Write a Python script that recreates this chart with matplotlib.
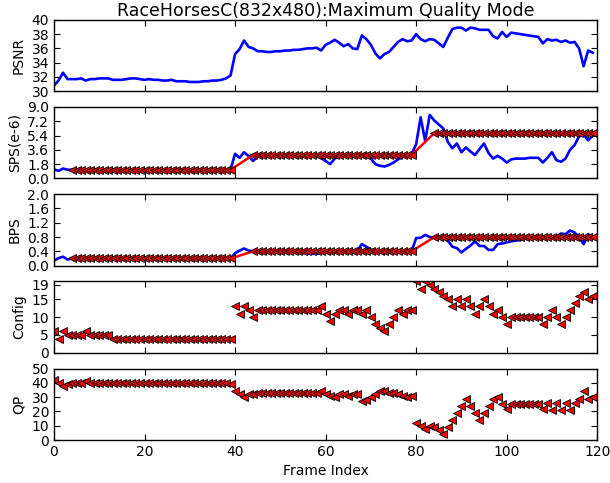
import matplotlib
matplotlib.use("Agg")
import matplotlib.pyplot as plt
import numpy as np

# frame indices
frames = list(range(120))

psnr = [30.8, 31.5, 32.6, 31.7, 31.7, 31.7, 31.8, 31.5, 31.7, 31.7,
        31.8, 31.8, 31.8, 31.6, 31.6, 31.6, 31.7, 31.8, 31.8, 31.7,
        31.6, 31.7, 31.6, 31.6, 31.5, 31.5, 31.6, 31.4, 31.4, 31.4,
        31.3, 31.3, 31.3, 31.4, 31.4, 31.5, 31.5, 31.6, 31.8, 32.2,
        35.2, 35.9, 37.1, 36.2, 36.0, 35.6, 35.6, 35.5, 35.5, 35.6,
        35.6, 35.7, 35.7, 35.8, 35.8, 35.9, 36.0, 36.0, 36.1, 35.7,
        36.5, 36.8, 37.2, 36.8, 36.3, 36.6, 36.0, 35.9, 37.8, 37.3,
        36.5, 35.3, 34.6, 35.2, 35.5, 36.2, 36.9, 37.3, 37.0, 37.1,
        38.0, 37.3, 37.0, 37.3, 37.2, 36.7, 36.2, 37.5, 38.7, 38.9,
        38.9, 38.5, 38.9, 38.8, 38.6, 38.6, 38.6, 37.7, 37.4, 38.3,
        37.6, 38.2, 38.1, 38.0, 37.9, 37.8, 37.7, 37.6, 36.7, 37.3,
        37.1, 37.2, 36.9, 37.1, 36.8, 36.9, 36.0, 33.5, 35.7, 35.4]

sps = [1.15, 0.95, 1.25, 1.1, 1.1, 1.1, 1.1, 1.1, 1.1, 1.1,
       1.1, 1.1, 1.1, 1.1, 1.1, 1.1, 1.1, 1.1, 1.1, 1.1,
       1.1, 1.1, 1.1, 1.1, 1.1, 1.1, 1.1, 1.1, 1.1, 1.1,
       1.1, 1.1, 1.1, 1.1, 1.1, 1.1, 1.1, 1.1, 1.1, 1.1,
       3.1, 2.6, 3.3, 2.8, 2.2, 2.8, 2.9, 2.9, 2.9, 2.9,
       2.9, 2.9, 2.9, 2.9, 2.9, 2.9, 2.9, 2.9, 2.8, 2.6,
       2.2, 1.8, 2.5, 2.8, 2.9, 2.9, 2.9, 2.9, 2.9, 2.8,
       2.5, 1.8, 1.6, 1.5, 1.7, 2.0, 2.4, 2.7, 2.9, 3.1,
       4.3, 7.7, 4.7, 8.0, 7.3, 6.8, 6.3, 4.6, 3.8, 4.4,
       3.3, 3.9, 3.4, 2.95, 3.7, 4.4, 3.2, 2.5, 2.85, 2.5,
       2.0, 2.4, 2.5, 2.5, 2.5, 2.6, 2.6, 2.6, 2.0, 2.6,
       3.3, 2.3, 2.1, 2.5, 3.6, 4.2, 5.3, 5.5, 4.8, 5.4]

bps = [0.14, 0.21, 0.25, 0.17, 0.2, 0.2, 0.2, 0.2, 0.2, 0.2,
       0.2, 0.2, 0.2, 0.2, 0.2, 0.2, 0.2, 0.2, 0.2, 0.2,
       0.2, 0.2, 0.2, 0.2, 0.2, 0.2, 0.2, 0.2, 0.2, 0.2,
       0.2, 0.2, 0.2, 0.2, 0.2, 0.2, 0.2, 0.2, 0.2, 0.2,
       0.35, 0.42, 0.48, 0.42, 0.4, 0.4, 0.4, 0.38, 0.38, 0.38,
       0.37, 0.37, 0.37, 0.36, 0.36, 0.35, 0.34, 0.33, 0.33, 0.36,
       0.4, 0.4, 0.4, 0.4, 0.4, 0.4, 0.4, 0.42, 0.6, 0.53,
       0.45, 0.42, 0.4, 0.4, 0.4, 0.4, 0.4, 0.4, 0.4, 0.4,
       0.77, 0.78, 0.86, 0.8, 0.78, 0.78, 0.78, 0.7, 0.53, 0.49,
       0.37, 0.47, 0.56, 0.68, 0.55, 0.55, 0.44, 0.44, 0.6, 0.62,
       0.65, 0.68, 0.7, 0.72, 0.75, 0.76, 0.77, 0.78, 0.78, 0.8,
       0.8, 0.8, 0.9, 0.88, 0.98, 0.93, 0.8, 0.6, 0.88, 0.8]

# target levels (red) for SPS and BPS
target_frames = list(range(4, 40)) + list(range(44, 80)) + list(range(84, 120))
sps_target = [1.1] * 36 + [2.95] * 36 + [5.7] * 36
bps_target = [0.2] * 36 + [0.4] * 36 + [0.8] * 36

config = [6, 4, 6, 5, 5, 5, 5, 6, 5, 5,
          5, 5, 5, 4, 4, 4, 4, 4, 4, 4,
          4, 4, 4, 4, 4, 4, 4, 4, 4, 4,
          4, 4, 4, 4, 4, 4, 4, 4, 4, 4,
          13, 11, 13, 12, 10, 12, 12, 12, 12, 12,
          12, 12, 12, 12, 12, 12, 12, 12, 12, 13,
          11, 9, 11, 12, 12, 11, 12, 12, 11, 12,
          10, 8, 7, 6, 8, 10, 12, 11, 12, 12,
          20, 18, 20, 19, 18, 17, 16, 15, 13, 15,
          13, 15, 13, 11, 13, 15, 13, 11, 12, 10,
          8, 10, 10, 10, 10, 10, 10, 10, 8, 10,
          12, 10, 8, 10, 12, 14, 16, 17, 15, 16]

qp = [42, 40, 38, 39, 40, 40, 40, 41, 40, 40,
      40, 40, 40, 40, 40, 40, 40, 40, 40, 40,
      40, 40, 40, 40, 40, 40, 40, 40, 40, 40,
      40, 40, 40, 40, 40, 40, 40, 40, 40, 39,
      34, 32, 30, 32, 32, 33, 33, 33, 33, 33,
      33, 33, 33, 33, 33, 33, 33, 33, 33, 34,
      32, 31, 30, 32, 32, 31, 32, 32, 27, 28,
      30, 32, 34, 34, 33, 33, 32, 31, 30, 31,
      12, 10, 8, 10, 9, 7, 4, 9, 14, 19,
      24, 29, 24, 19, 14, 19, 24, 29, 30, 25,
      22, 25, 25, 25, 25, 25, 25, 25, 22, 26,
      21, 26, 21, 26, 21, 26, 29, 34, 29, 30]

fig, axes = plt.subplots(5, 1, figsize=(6.1, 4.83), dpi=100, sharex=True)
fig.subplots_adjust(left=0.0885, right=0.979, top=0.959, bottom=0.089, hspace=0.22)

mk = dict(marker='<', markersize=6, markerfacecolor='red',
          markeredgecolor='black', markeredgewidth=0.6)

ax = axes[0]
ax.plot(frames, psnr, color='blue', lw=1.9)
ax.set_ylim(30, 40)
ax.set_yticks([30, 32, 34, 36, 38, 40])
ax.set_ylabel('PSNR')
ax.set_title('RaceHorsesC(832x480):Maximum Quality Mode', fontsize=12.5, pad=2)

ax = axes[1]
ax.plot(frames, sps, color='blue', lw=1.9)
ax.plot(target_frames, sps_target, color='red', lw=1.8, **mk)
ax.set_ylim(0, 9)
ax.set_yticks([0.0, 1.8, 3.6, 5.4, 7.2, 9.0])
ax.set_ylabel('SPS(e-6)')

ax = axes[2]
ax.plot(frames, bps, color='blue', lw=1.9)
ax.plot(target_frames, bps_target, color='red', lw=1.8, **mk)
ax.set_ylim(0, 2)
ax.set_yticks([0.0, 0.4, 0.8, 1.2, 1.6, 2.0])
ax.set_ylabel('BPS')

ax = axes[3]
ax.plot(frames, config, linestyle='none', **mk)
ax.set_ylim(0, 20)
ax.set_yticks([0, 5, 10, 15, 19])
ax.set_ylabel('Config')

ax = axes[4]
ax.plot(frames, qp, linestyle='none', **mk)
ax.set_ylim(0, 50)
ax.set_yticks([0, 10, 20, 30, 40, 50])
ax.set_ylabel('QP')
ax.set_xlabel('Frame Index', fontsize=10)

for ax in axes:
    ax.set_xlim(0, 120)
    ax.set_xticks([0, 20, 40, 60, 80, 100, 120])
    ax.tick_params(direction='in', top=True, right=True, labelsize=10, length=4)
    ax.yaxis.label.set_size(10)
    for sp in ax.spines.values():
        sp.set_linewidth(1.0)

fig.savefig('out.png', dpi=100)
